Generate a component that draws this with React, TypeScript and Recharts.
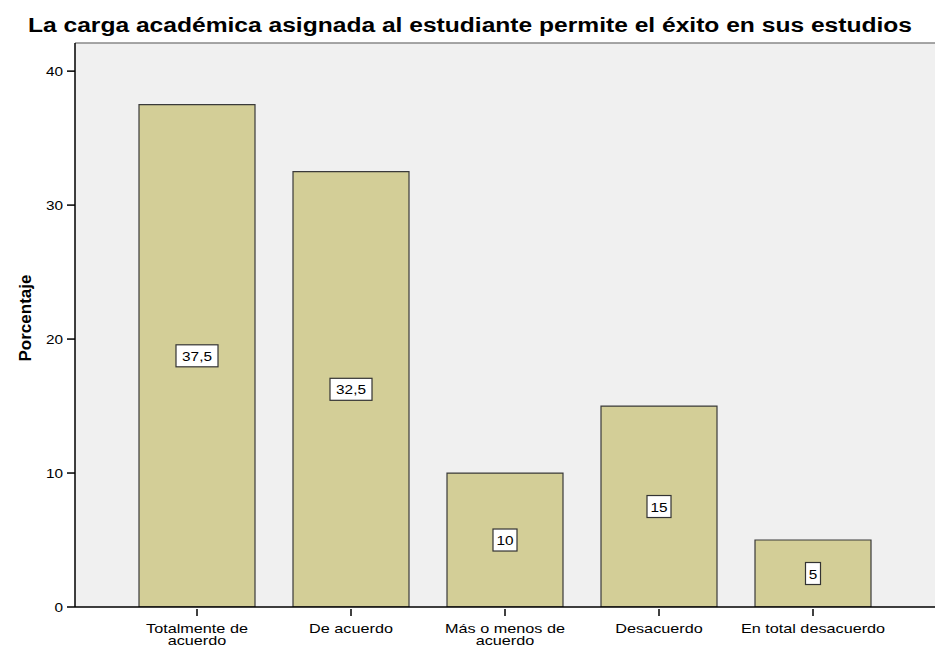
import React from 'react';
import { BarChart, Bar, XAxis, YAxis, CartesianGrid, LabelList, ReferenceLine } from 'recharts';

const categories = ['Totalmente de acuerdo', 'De acuerdo', 'Más o menos de acuerdo', 'Desacuerdo', 'En total desacuerdo'];
const tickLines: string[][] = [['Totalmente de', 'acuerdo'], ['De acuerdo'], ['Más o menos de', 'acuerdo'], ['Desacuerdo'], ['En total desacuerdo']];
const percentages = [37.5, 32.5, 10, 15, 5];
const valueLabels = ['37,5', '32,5', '10', '15', '5'];
const yTicks = [0, 10, 20, 30, 40];
const title = 'La carga académica asignada al estudiante permite el éxito en sus estudios';
const yTitle = 'Porcentaje';

const data = categories.map((c, i) => ({ name: c, value: percentages[i], label: valueLabels[i] }));

const FONT = 'Liberation Sans, Arial, sans-serif';
const SX = 1.33;

const XTick = (props: any) => {
  const { x, y, payload } = props;
  const idx = categories.indexOf(payload.value);
  const lines = tickLines[idx] || [payload.value];
  return (
    <g>
      <line x1={x} x2={x} y1={y - 8} y2={y - 1} stroke="#000" strokeWidth={1.5} />
      {lines.map((l, i) => (
        <text
          key={i}
          transform={`translate(${x},${y + 15.5 + i * 12.5}) scale(${SX},1)`}
          x={0}
          y={0}
          textAnchor="middle"
          fontSize={12.2}
          fontFamily={FONT}
          fill="#000"
        >
          {l}
        </text>
      ))}
    </g>
  );
};

const YTick = (props: any) => {
  const { x, y, payload } = props;
  return (
    <text
      transform={`translate(${x - 2},${y + 4.5}) scale(1.18,1)`}
      x={0}
      y={0}
      textAnchor="end"
      fontSize={13}
      fontFamily={FONT}
      fill="#000"
    >
      {payload.value}
    </text>
  );
};

const ValueLabel = (props: any) => {
  const { x, y, width, height, index } = props;
  const txt = valueLabels[index];
  const cx = x + width / 2;
  const cy = y + height / 2;
  const w = txt.length * 9 + 6;
  const h = 22;
  return (
    <g>
      <rect x={cx - w / 2} y={cy - h / 2} width={w} height={h} fill="#fff" stroke="#333" strokeWidth={1.2} />
      <text
        transform={`translate(${cx},${cy + 5}) scale(1.18,1)`}
        x={0}
        y={0}
        textAnchor="middle"
        fontSize={13}
        fontFamily={FONT}
        fill="#000"
      >
        {txt}
      </text>
    </g>
  );
};

export default function App() {
  return (
    <div style={{ position: 'absolute', left: 0, top: 0, width: 935, height: 648, background: '#fff' }}>
      <div style={{ position: 'absolute', left: 0, top: 0 }}>
        <BarChart width={935} height={648} data={data} margin={{ top: 43, right: 0, bottom: 0, left: 0 }} barSize={116}>
          <CartesianGrid fill="#f0f0f0" horizontal={false} vertical={false} />
          <ReferenceLine y={42.1} stroke="#888" strokeWidth={1.5} ifOverflow="visible" />
          <XAxis
            dataKey="name"
            height={41}
            padding={{ left: 45, right: 45 }}
            tickLine={false}
            axisLine={{ stroke: '#000', strokeWidth: 1.5 }}
            tick={<XTick />}
            interval={0}
            tickSize={8}
          />
          <YAxis
            width={75}
            domain={[0, 42.1]}
            ticks={yTicks}
            allowDataOverflow
            tickLine={{ stroke: '#000', strokeWidth: 1.5 }}
            tickSize={8}
            axisLine={{ stroke: '#000', strokeWidth: 1.5 }}
            tick={<YTick />}
          />
          <Bar dataKey="value" fill="#d3ce97" stroke="#3a3a3a" strokeWidth={1.2} isAnimationActive={false}>
            <LabelList dataKey="label" content={<ValueLabel />} />
          </Bar>
        </BarChart>
      </div>
      <svg width={935} height={648} style={{ position: 'absolute', left: 0, top: 0, pointerEvents: 'none' }}>
        <text
          x={28}
          y={32}
          textLength={884}
          lengthAdjust="spacingAndGlyphs"
          fontSize={20}
          fontWeight="bold"
          fontFamily={FONT}
          fill="#000"
        >
          {title}
        </text>
        <text
          transform="translate(31,318) rotate(-90)"
          x={0}
          y={0}
          textAnchor="middle"
          fontSize={17}
          fontWeight="bold"
          fontFamily={FONT}
          fill="#000"
        >
          {yTitle}
        </text>
      </svg>
    </div>
  );
}
